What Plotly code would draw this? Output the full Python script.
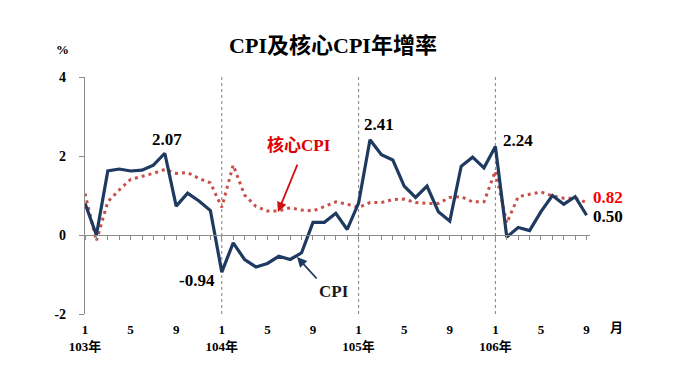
import plotly.graph_objects as go

# ---- data ----
years = ["103年", "104年", "105年", "106年"]
months_per_year = [12, 12, 12, 9]
month_labels = ["1", "5", "9"]
cpi = [0.80, 0.00, 1.62, 1.67, 1.62, 1.64, 1.77, 2.07, 0.73, 1.06, 0.86, 0.62,
       -0.94, -0.20, -0.62, -0.81, -0.72, -0.54, -0.62, -0.45, 0.32, 0.32, 0.55, 0.14,
       0.81, 2.41, 2.03, 1.90, 1.24, 0.95, 1.24, 0.59, 0.35, 1.74, 1.97, 1.70,
       2.24, -0.05, 0.19, 0.11, 0.59, 1.00, 0.78, 0.97, 0.50]
core_cpi = [1.05, -0.15, 0.84, 1.14, 1.41, 1.49, 1.56, 1.66, 1.56, 1.58, 1.43, 1.32,
            0.70, 1.77, 1.01, 0.72, 0.61, 0.61, 0.69, 0.63, 0.61, 0.72, 0.84, 0.78,
            0.70, 0.82, 0.82, 0.90, 0.91, 0.82, 0.80, 0.80, 0.95, 0.97, 0.84, 0.84,
            1.62, 0.30, 0.97, 1.03, 1.09, 0.99, 0.93, 0.93, 0.82]
y_ticks = [-2, 0, 2, 4]

# ---- derived positions ----
x = list(range(len(cpi)))
year_starts = []
tickvals, ticktext = [], []
pos = 0
for yr, n in zip(years, months_per_year):
    year_starts.append(pos)
    for m in range(1, n + 1):
        if str(m) in month_labels:
            tickvals.append(pos + m - 1)
            ticktext.append(f"{m}<br>{yr}" if m == 1 else str(m))
    pos += n

NAVY = "#1F3A60"
RED = "#C8504A"
GRAY = "#8C8C8C"
FONT = "Liberation Serif, Noto Sans CJK TC, serif"
xr = [0, len(cpi) - 1 + 0.3]

# page body has an 8px margin; figure is sized to fit the window
W, H = 672, 374

fig = go.Figure()
fig.add_trace(go.Scatter(x=x, y=core_cpi, mode="lines", name="核心CPI",
                         line=dict(color=RED, width=3, dash="3px,4px"),
                         hoverinfo="skip", showlegend=False))
fig.add_trace(go.Scatter(x=x, y=cpi, mode="lines", name="CPI",
                         line=dict(color=NAVY, width=3.2),
                         hoverinfo="skip", showlegend=False))
# invisible trace for zero-line axis
fig.add_trace(go.Scatter(x=[x[0]], y=[0], xaxis="x2", mode="markers",
                         marker=dict(opacity=0), hoverinfo="skip", showlegend=False))

# year separator dotted lines
for s in year_starts[1:]:
    fig.add_shape(type="line", xref="x", yref="y", x0=s, x1=s, y0=y_ticks[0], y1=y_ticks[-1],
                  line=dict(color="#7F7F7F", width=1, dash="dot"), layer="below")

bold = dict(family=FONT, size=17, color="black", weight="bold")
ann = []
i = cpi.index(max(cpi[:12]))
ann.append(dict(x=i, y=cpi[i], text=f"{cpi[i]:.2f}", showarrow=False, xshift=2, yshift=14, font=bold))
i = cpi.index(max(cpi[24:36]))
ann.append(dict(x=i, y=cpi[i], text=f"{cpi[i]:.2f}", showarrow=False, xshift=9, yshift=15, font=bold))
i = 36
ann.append(dict(x=i, y=cpi[i], text=f"{cpi[i]:.2f}", showarrow=False, xanchor="left", xshift=6, yshift=6, font=bold))
i = 12
ann.append(dict(x=i, y=cpi[i], text=f"{cpi[i]:.2f}", showarrow=False, xanchor="right", xshift=-5, yshift=-8, font=bold))
i = len(cpi) - 1
ann.append(dict(x=i, y=core_cpi[i], text=f"{core_cpi[i]:.2f}", showarrow=False, xanchor="left", xshift=4, yshift=5,
                font=dict(family=FONT, size=17, color="#FF0000", weight="bold")))
ann.append(dict(x=i, y=cpi[i], text=f"{cpi[i]:.2f}", showarrow=False, xanchor="left", xshift=4, yshift=-1, font=bold))

# series labels with arrows
ann.append(dict(x=16.93, y=0.58, ax=20, ay=-49, text="", showarrow=True, arrowhead=2, arrowsize=1.1,
                arrowwidth=1.8, arrowcolor="#D01010"))
ann.append(dict(x=16.93, y=0.58, text="核心CPI", showarrow=False, xshift=21, yshift=67,
                font=dict(family=FONT, size=17, color="#E00000", weight="bold")))
ann.append(dict(x=18.6, y=-0.557, ax=21, ay=23, text="", showarrow=True, arrowhead=2, arrowsize=1.1,
                arrowwidth=1.8, arrowcolor=NAVY))
ann.append(dict(x=18.6, y=-0.557, text="CPI", showarrow=False, xshift=37, yshift=-34,
                font=dict(family=FONT, size=17, color="#1A1A1A", weight="bold")))
ann.append(dict(xref="paper", yref="paper", x=-0.0455, y=1.114, text="%", showarrow=False,
                xanchor="center", yanchor="middle",
                font=dict(family=FONT, size=13, color="black", weight="bold")))
ann.append(dict(xref="paper", yref="paper", x=1.053, y=-0.059, text="月", showarrow=False,
                xanchor="center", yanchor="middle",
                font=dict(family=FONT, size=13, color="black", weight="bold")))

fig.update_layout(
    width=W, height=H,
    margin=dict(l=77, r=90, t=69, b=68, autoexpand=False),
    paper_bgcolor="white", plot_bgcolor="white",
    title=dict(text="CPI及核心CPI年增率", x=325 / W, y=1 - 37 / H, xref="container", yref="container",
               xanchor="center", yanchor="middle",
               font=dict(family=FONT, size=22, color="black", weight="bold")),
    xaxis=dict(range=xr, tickvals=tickvals, ticktext=ticktext, showline=False, showgrid=False,
               zeroline=False, ticks="", ticklabelstandoff=6,
               tickfont=dict(family=FONT, size=13, color="black", weight="bold")),
    xaxis2=dict(range=xr, overlaying="x", anchor="free", position=(0 - y_ticks[0]) / (y_ticks[-1] - y_ticks[0]),
                showline=True, linecolor=GRAY, linewidth=1.2, ticks="outside", tickvals=x, ticklen=4,
                tickcolor=GRAY, tickwidth=1, showticklabels=False, showgrid=False, zeroline=False),
    yaxis=dict(range=[y_ticks[0], y_ticks[-1]], tickvals=y_ticks, ticktext=[str(v) for v in y_ticks],
               showline=True, linecolor=GRAY, linewidth=1.2, ticks="outside", ticklen=5, tickcolor=GRAY,
               showgrid=False, zeroline=False, ticklabelstandoff=10,
               tickfont=dict(family=FONT, size=14, color="black", weight="bold")),
    annotations=ann,
)

fig.write_html("out.html")
